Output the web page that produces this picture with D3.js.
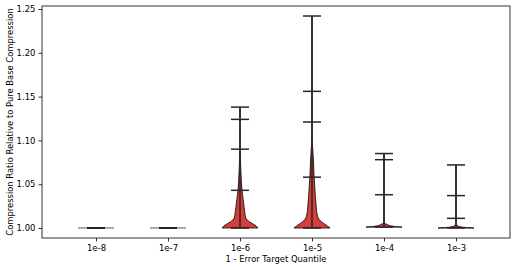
<!DOCTYPE html>
<html>
<head>
<meta charset="utf-8">
<script src="https://cdn.jsdelivr.net/npm/d3@7"></script>
<style>
  html, body { margin: 0; padding: 0; background: #fff; }
  svg { display: block; }
  text { font-family: "DejaVu Sans", sans-serif; fill: #000; }
</style>
</head>
<body>
<svg id="chart" width="516" height="270"></svg>
<script>
// ---- data ----
const categories = ["1e-8", "1e-7", "1e-6", "1e-5", "1e-4", "1e-3"];
const mins = [1.000, 1.000, 1.000, 1.000, 1.001, 1.000];
const maxes = [1.000, 1.000, 1.138, 1.242, 1.085, 1.072];
// additional horizontal markers (quantiles) per category
const quantileMarks = [
  [1.000, 1.000, 1.000],
  [1.000, 1.000, 1.000],
  [1.043, 1.090, 1.124],
  [1.058, 1.121, 1.156],
  [1.038, 1.078],
  [1.011, 1.037]
];
// violin outlines: [value, relative half-width]
const profiles = [
  [[1.0000, 1.0], [1.0001, 1.0]],
  [[1.0000, 1.0], [1.0001, 1.0]],
  [[1.000, 1.0], [1.0034, 0.83], [1.0072, 0.52], [1.011, 0.33], [1.0186, 0.26], [1.032, 0.18], [1.043, 0.11], [1.063, 0.055], [1.080, 0.02], [1.095, 0.0], [1.138, 0.0]],
  [[1.000, 1.0], [1.004, 0.74], [1.008, 0.47], [1.015, 0.29], [1.024, 0.235], [1.043, 0.165], [1.062, 0.11], [1.081, 0.07], [1.095, 0.025], [1.110, 0.0], [1.242, 0.0]],
  [[1.001, 1.0], [1.002, 0.5], [1.004, 0.17], [1.0065, 0.0], [1.085, 0.0]],
  [[1.000, 1.0], [1.001, 0.33], [1.003, 0.06], [1.005, 0.0], [1.072, 0.0]]
];
const yTicks = [1.00, 1.05, 1.10, 1.15, 1.20, 1.25];

// ---- layout ----
const svg = d3.select("#chart");
const mLeft = 42, mRight = 510, mTop = 6, mBottom = 238;
const x = d3.scaleLinear().domain([0.25, 6.75]).range([mLeft, mRight]);
const y = d3.scaleLinear().domain([0.98858, 1.25342]).range([mBottom, mTop]);
const halfW = x(0.25) - x(0);
const capW = x(0.125) - x(0);

// violin bodies
const area = d3.area()
  .y(d => y(d[0]))
  .curve(d3.curveMonotoneY);

categories.forEach((c, i) => {
  const cx = x(i + 1);
  const span = profiles[i][profiles[i].length - 1][0] - profiles[i][0][0];
  area.x0(d => cx - d[1] * halfW).x1(d => cx + d[1] * halfW);
  svg.append("path")
    .attr("d", area(profiles[i]))
    .attr("fill", "#D43F3A")
    .attr("stroke", "#000")
    .attr("stroke-opacity", span < 0.001 ? 0.45 : 1)
    .attr("stroke-width", 0.8)
    .attr("stroke-linejoin", "round");
});

// lines: center bar, caps, quantiles
const lineColor = "#262626";
categories.forEach((c, i) => {
  const cx = x(i + 1);
  const g = svg.append("g").attr("stroke", lineColor).attr("stroke-width", 1.5);
  g.append("line").attr("x1", cx).attr("x2", cx).attr("y1", y(mins[i])).attr("y2", y(maxes[i]));
  [mins[i], maxes[i], ...quantileMarks[i]].forEach(v => {
    g.append("line").attr("x1", cx - capW).attr("x2", cx + capW).attr("y1", y(v)).attr("y2", y(v));
  });
});

// axes
const xAxis = d3.axisBottom(x).tickValues(categories.map((c, i) => i + 1))
  .tickFormat((d, i) => categories[i]).tickSize(3.5).tickSizeOuter(0).tickPadding(3);
const yAxis = d3.axisLeft(y).tickValues(yTicks).tickFormat(d3.format(".2f"))
  .tickSize(3.5).tickSizeOuter(0).tickPadding(3);

const gx = svg.append("g").attr("transform", `translate(0,${mBottom})`).call(xAxis);
const gy = svg.append("g").attr("transform", `translate(${mLeft},0)`).call(yAxis);
[gx, gy].forEach(g => {
  g.select(".domain").remove();
  g.selectAll(".tick line").attr("stroke", "#000").attr("stroke-width", 0.8);
  g.selectAll(".tick text").attr("font-size", "8.5px").attr("font-family", "DejaVu Sans, sans-serif").attr("fill", "#000");
});

// frame
svg.append("rect").attr("x", mLeft).attr("y", mTop).attr("width", mRight - mLeft).attr("height", mBottom - mTop)
  .attr("fill", "none").attr("stroke", "#000").attr("stroke-width", 0.8);

// labels
svg.append("text").attr("x", (mLeft + mRight) / 2).attr("y", 261.5).attr("text-anchor", "middle")
  .attr("font-size", "8.4px").text("1 - Error Target Quantile");
svg.append("text").attr("transform", `translate(12.5,${(mTop + mBottom) / 2}) rotate(-90)`)
  .attr("text-anchor", "middle").attr("font-size", "8.4px")
  .text("Compression Ratio Relative to Pure Base Compression");
</script>
</body>
</html>
